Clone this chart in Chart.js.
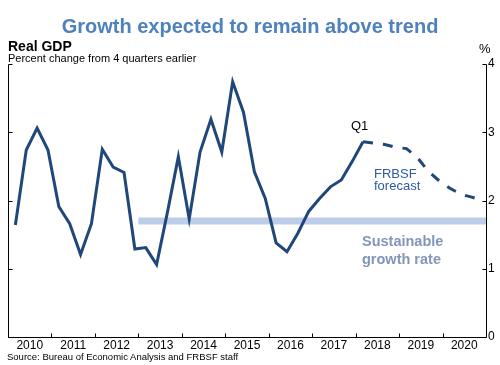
<!DOCTYPE html>
<html>
<head>
<meta charset="utf-8">
<script src="https://cdn.jsdelivr.net/npm/chart.js@4"></script>
<style>
  html, body { margin: 0; padding: 0; background: #fff; }
  #wrap { position: relative; width: 500px; height: 365px; font-family: "Liberation Sans", Arial, sans-serif; }
  #c { position: absolute; left: 0; top: 0; }
  .t { position: absolute; white-space: nowrap; line-height: 1; }
</style>
</head>
<body>
<div id="wrap">
  <canvas id="c" width="500" height="365"></canvas>
  <div class="t" style="left:0;width:500px;text-align:center;top:16px;font-size:20px;font-weight:bold;color:#4f81bd;">Growth expected to remain above trend</div>
  <div class="t" style="left:8px;top:39px;font-size:14px;font-weight:bold;color:#000;">Real GDP</div>
  <div class="t" style="left:8px;top:53px;font-size:11px;color:#000;">Percent change from 4 quarters earlier</div>
  <div class="t" style="left:479px;top:42px;font-size:13px;color:#000;">%</div>
  <div class="t" style="left:351px;top:119px;font-size:13px;color:#000;">Q1</div>
  <div class="t" style="left:374px;top:168px;font-size:13px;color:#2f5ba3;line-height:11.5px;">FRBSF<br>forecast</div>
  <div class="t" style="left:362px;top:232px;font-size:14.5px;font-weight:bold;color:#8196b8;line-height:18px;">Sustainable<br>growth rate</div>
  <div class="t" style="left:7px;top:352px;font-size:9.5px;color:#000;">Source: Bureau of Economic Analysis and FRBSF staff</div>
</div>
<script>
// Quarter index 0 = 2010 Q1
const years = ["2010","2011","2012","2013","2014","2015","2016","2017","2018","2019","2020"];
const actualStart = 0;
const actualValues = [1.64, 2.74, 3.06, 2.74, 1.91, 1.66, 1.21, 1.66, 2.75, 2.49, 2.41,
  1.29, 1.31, 1.06, 1.83, 2.64, 1.73, 2.71, 3.19, 2.71, 3.74, 3.29, 2.42, 2.03,
  1.38, 1.25, 1.52, 1.84, 2.03, 2.20, 2.30, 2.57, 2.86];
const forecastStart = 32;
const forecastValues = [2.86, 2.84, 2.82, 2.78, 2.76, 2.63, 2.43, 2.29, 2.18, 2.09, 2.05, 2.00];
const trendRate = 1.7;
const trendStartQ = 12;
const trendEndQ = 44;
const yTicks = [0, 1, 2, 3, 4];
const pointOffset = 0.68;

const actualData = actualValues.map((v, i) => ({ x: actualStart + i + pointOffset, y: v }));
const forecastData = forecastValues.map((v, i) => ({ x: forecastStart + i + pointOffset, y: v }));
const trendData = [{ x: trendStartQ, y: trendRate }, { x: trendEndQ, y: trendRate }];

const axisPlugin = {
  id: 'axisPlugin',
  afterDraw(chart) {
    const ctx = chart.ctx;
    const xs = chart.scales.x, ys = chart.scales.y;
    ctx.save();
    ctx.strokeStyle = '#000';
    ctx.lineWidth = 1;
    ctx.beginPath();
    const L = Math.round(xs.getPixelForValue(0)) + 0.5;
    const R = Math.round(xs.getPixelForValue(44)) + 0.5;
    const B = Math.round(ys.getPixelForValue(0)) + 0.5;
    const T = Math.round(ys.getPixelForValue(4)) + 0.5;
    ctx.moveTo(L, T); ctx.lineTo(L, B); ctx.lineTo(R, B); ctx.lineTo(R, T);
    yTicks.forEach(v => {
      const p = Math.round(ys.getPixelForValue(v)) + 0.5;
      ctx.moveTo(L, p); ctx.lineTo(L + 4, p);
      ctx.moveTo(R, p); ctx.lineTo(R - 4, p);
    });
    for (let q = 4; q < 44; q += 4) {
      const p = Math.round(xs.getPixelForValue(q)) + 0.5;
      ctx.moveTo(p, B); ctx.lineTo(p, B - 4);
    }
    ctx.stroke();
    ctx.restore();
  }
};

new Chart(document.getElementById('c'), {
  type: 'line',
  data: {
    datasets: [
      { data: trendData, borderColor: '#bccde9', borderWidth: 7, pointRadius: 0, borderCapStyle: 'butt', order: 3 },
      { data: actualData, borderColor: '#1f477a', borderWidth: 3, pointRadius: 0, tension: 0, order: 1 },
      { data: forecastData, borderColor: '#1f477a', borderWidth: 3, pointRadius: 0, tension: 0, borderDash: [10, 10], borderCapStyle: 'butt', order: 2 }
    ]
  },
  options: {
    responsive: false,
    animation: false,
    events: [],
    layout: { padding: { left: 8, top: 64, right: 0, bottom: 0 } },
    plugins: { legend: { display: false }, tooltip: { enabled: false } },
    scales: {
      x: {
        type: 'linear', min: 0, max: 44,
        afterFit(s) { s.height = 28; },
        border: { display: false },
        grid: { display: false, drawTicks: false },
        ticks: {
          stepSize: 2, autoSkip: false, maxRotation: 0, padding: 1,
          color: '#000', font: { family: 'Liberation Sans', size: 12 },
          callback: v => (v % 4 === 2 ? years[(v - 2) / 4] : '')
        }
      },
      y: {
        position: 'right', min: 0, max: 4,
        afterFit(s) { s.width = 14; },
        border: { display: false },
        grid: { display: false, drawTicks: false },
        ticks: {
          stepSize: 1, padding: 2, color: '#000',
          font: { family: 'Liberation Sans', size: 12 },
          callback: v => (yTicks.includes(v) ? String(v) : '')
        }
      }
    }
  },
  plugins: [axisPlugin]
});
</script>
</body>
</html>
